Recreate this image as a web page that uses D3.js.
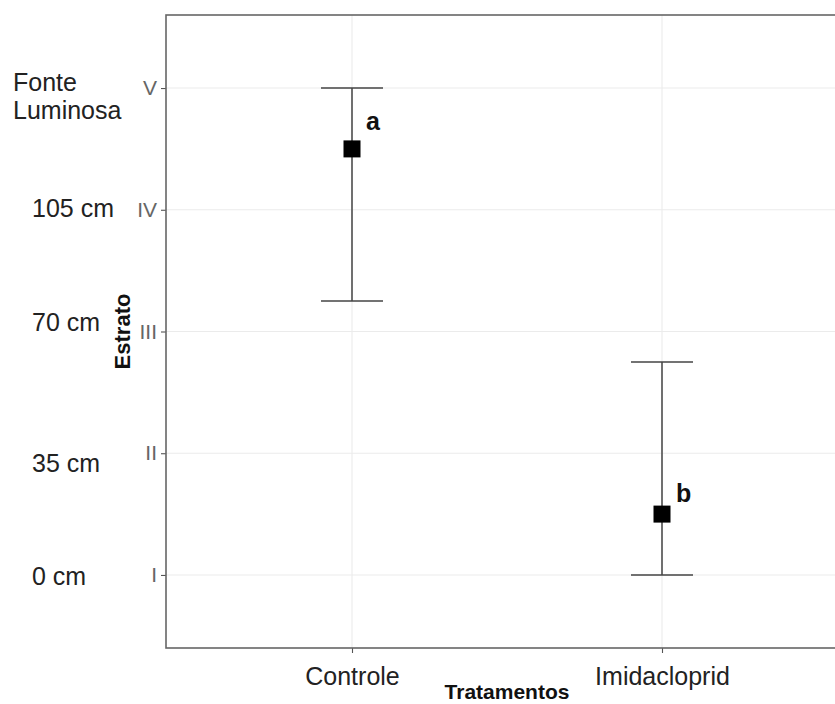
<!DOCTYPE html>
<html>
<head>
<meta charset="utf-8">
<script src="https://cdn.jsdelivr.net/npm/d3@7"></script>
<style>
  html, body { margin: 0; padding: 0; background: #fff; }
  svg { display: block; font-family: "Liberation Sans", Arial, sans-serif; }
</style>
</head>
<body>
<div id="chart"></div>
<script>
// Treatments and the stratum reached (mean with lower/upper bounds)
const tratamentos = ["Controle", "Imidacloprid"];
const media = [4.5, 1.5];
const limiteInferior = [3.25, 1.0];
const limiteSuperior = [5.0, 2.75];
const letras = ["a", "b"];

// Strata on the vertical axis and the height annotations beside them
const estratos = [1, 2, 3, 4, 5];
const estratoRotulos = ["I", "II", "III", "IV", "V"];
const alturas = ["0 cm", "35 cm", "70 cm", "105 cm"];

const W = 835, H = 704;
const panel = { left: 166, right: 848, top: 15, bottom: 648 };

const svg = d3.select("#chart").append("svg")
  .attr("width", W).attr("height", H);

const x = d3.scalePoint()
  .domain(tratamentos)
  .range([panel.left, panel.right])
  .padding(0.6);

const y = d3.scaleLinear()
  .domain([0.4, 5.6])
  .range([panel.bottom, panel.top]);

// grid
const grid = svg.append("g");
grid.selectAll("line.gy").data(estratos).join("line")
  .attr("x1", panel.left).attr("x2", panel.right)
  .attr("y1", d => y(d)).attr("y2", d => y(d))
  .attr("stroke", "#ebebeb").attr("stroke-width", 1.1);
grid.selectAll("line.gx").data(tratamentos).join("line")
  .attr("x1", d => x(d)).attr("x2", d => x(d))
  .attr("y1", panel.top).attr("y2", panel.bottom)
  .attr("stroke", "#ebebeb").attr("stroke-width", 1.1);

// axes
const yAxis = d3.axisLeft(y)
  .tickValues(estratos)
  .tickFormat((d, i) => estratoRotulos[i])
  .tickSize(5).tickPadding(4);
const gy = svg.append("g").attr("transform", `translate(${panel.left},0)`).call(yAxis);
gy.select(".domain").remove();
gy.selectAll(".tick line").attr("stroke", "#555").attr("stroke-width", 1.1);
gy.selectAll(".tick text")
  .attr("fill", "#666")
  .style("font-size", "21px")
  .style("font-family", "'Liberation Sans', Arial, sans-serif");

const xAxis = d3.axisBottom(x).tickSize(5).tickPadding(14);
const gx = svg.append("g").attr("transform", `translate(0,${panel.bottom})`).call(xAxis);
gx.select(".domain").remove();
gx.selectAll(".tick line").attr("stroke", "#555").attr("stroke-width", 1.1);
gx.selectAll(".tick text")
  .attr("fill", "#222")
  .style("font-size", "25px")
  .style("font-family", "'Liberation Sans', Arial, sans-serif");

// panel border
svg.append("rect")
  .attr("x", panel.left).attr("y", panel.top)
  .attr("width", panel.right - panel.left)
  .attr("height", panel.bottom - panel.top)
  .attr("fill", "none").attr("stroke", "#666").attr("stroke-width", 1.6);

// error bars
const capHalf = 31;
const bars = svg.append("g");
tratamentos.forEach((t, i) => {
  const cx = x(t);
  bars.append("line")
    .attr("x1", cx).attr("x2", cx)
    .attr("y1", y(limiteInferior[i])).attr("y2", y(limiteSuperior[i]))
    .attr("stroke", "#444").attr("stroke-width", 1.5);
  [limiteInferior[i], limiteSuperior[i]].forEach(v => {
    bars.append("line")
      .attr("x1", cx - capHalf).attr("x2", cx + capHalf)
      .attr("y1", y(v)).attr("y2", y(v))
      .attr("stroke", "#444").attr("stroke-width", 1.5);
  });
});

// mean points
const sq = 17;
svg.append("g").selectAll("rect").data(tratamentos).join("rect")
  .attr("x", d => x(d) - sq / 2)
  .attr("y", (d, i) => y(media[i]) - sq / 2)
  .attr("width", sq).attr("height", sq)
  .attr("fill", "#000");

// significance letters
const letraDy = [-19, -12];
svg.append("g").selectAll("text").data(tratamentos).join("text")
  .attr("x", d => x(d) + 14)
  .attr("y", (d, i) => y(media[i]) + letraDy[i])
  .attr("fill", "#111")
  .style("font-size", "25px").style("font-weight", "bold")
  .text((d, i) => letras[i]);

// axis titles
svg.append("text")
  .attr("x", (panel.left + panel.right) / 2).attr("y", 699)
  .attr("text-anchor", "middle")
  .attr("fill", "#111")
  .style("font-size", "21px").style("font-weight", "bold")
  .text("Tratamentos");

svg.append("text")
  .attr("transform", `translate(130,${(panel.top + panel.bottom) / 2}) rotate(-90)`)
  .attr("text-anchor", "middle")
  .attr("fill", "#111")
  .style("font-size", "22px").style("font-weight", "bold")
  .text("Estrato");

// height annotations beside the strata
const alturaDy = [10, 19, -1, 7];
svg.append("g").selectAll("text").data(alturas).join("text")
  .attr("x", 32)
  .attr("y", (d, i) => y(estratos[i]) + alturaDy[i])
  .attr("fill", "#222")
  .style("font-size", "25px")
  .text(d => d);

const fonte = svg.append("text")
  .attr("x", 13).attr("y", y(5) + 3)
  .attr("fill", "#222")
  .style("font-size", "25px");
fonte.append("tspan").attr("x", 13).text("Fonte");
fonte.append("tspan").attr("x", 13).attr("dy", 27.5).text("Luminosa");
</script>
</body>
</html>
